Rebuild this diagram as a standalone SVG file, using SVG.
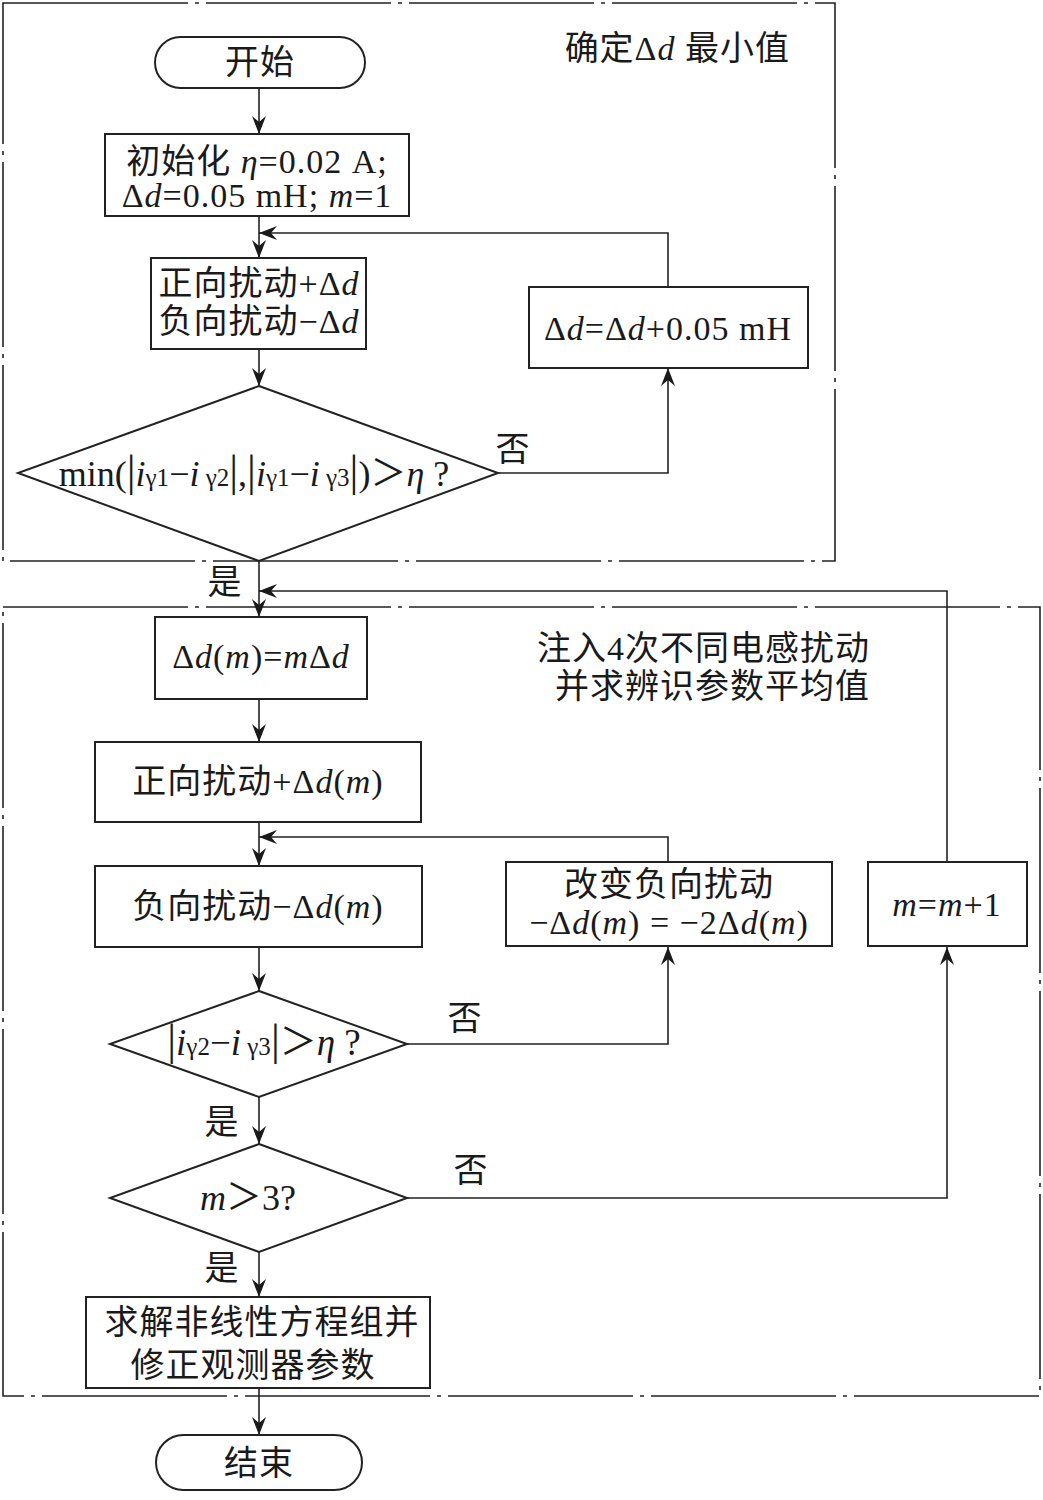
<svg xmlns="http://www.w3.org/2000/svg" width="1043" height="1500" viewBox="0 0 1043 1500">
<style>
.frame{fill:none;stroke:#222;stroke-width:1.6;stroke-dasharray:185 7 4 7}
.box{fill:#fff;stroke:#222;stroke-width:2}
.ln{fill:none;stroke:#222;stroke-width:1.6}
.t{font-family:"Liberation Serif","Noto Sans CJK SC",serif;font-size:34px;fill:#1a1a1a;letter-spacing:1px}
.c{text-anchor:middle}
.i{font-style:italic}
.s{font-size:25px}
.b{font-size:44px}
</style>
<defs>
<marker id="ah" viewBox="0 0 18 14" refX="18" refY="7" markerWidth="18" markerHeight="14" markerUnits="userSpaceOnUse" orient="auto">
<path d="M0,0 L18,7 L0,14 L6,7 Z" fill="#1a1a1a"/>
</marker>
</defs>
<rect class="frame" x="3" y="3" width="832" height="558"/>
<rect class="frame" x="3" y="607" width="1037" height="789"/>
<text class="t" x="790" y="60" text-anchor="end">确定Δ<tspan class="i">d</tspan> 最小值</text>
<text class="t" x="870" y="660" text-anchor="end">注入4次不同电感扰动</text>
<text class="t" x="870" y="698" text-anchor="end">并求辨识参数平均值</text>
<g id="connectors">
<path class="ln" d="M259,88 V134" marker-end="url(#ah)"/>
<path class="ln" d="M259,216 V258" marker-end="url(#ah)"/>
<path class="ln" d="M668,287 V233 H259" marker-end="url(#ah)"/>
<path class="ln" d="M259,349 V386" marker-end="url(#ah)"/>
<path class="ln" d="M498,473 H668 V368" marker-end="url(#ah)"/>
<path class="ln" d="M259,561 V617" marker-end="url(#ah)"/>
<path class="ln" d="M259,699 V742" marker-end="url(#ah)"/>
<path class="ln" d="M259,822 V866" marker-end="url(#ah)"/>
<path class="ln" d="M668,862 V837 H259" marker-end="url(#ah)"/>
<path class="ln" d="M259,947 V991" marker-end="url(#ah)"/>
<path class="ln" d="M407,1044 H668 V947" marker-end="url(#ah)"/>
<path class="ln" d="M259,1097 V1144" marker-end="url(#ah)"/>
<path class="ln" d="M407,1198 H947 V947" marker-end="url(#ah)"/>
<path class="ln" d="M947,862 V591 H259" marker-end="url(#ah)"/>
<path class="ln" d="M259,1252 V1297" marker-end="url(#ah)"/>
<path class="ln" d="M259,1388 V1435" marker-end="url(#ah)"/>
<text class="t c" x="513" y="461">否</text>
<text class="t c" x="225" y="594">是</text>
<text class="t c" x="465" y="1030">否</text>
<text class="t c" x="222" y="1134">是</text>
<text class="t c" x="471" y="1182">否</text>
<text class="t c" x="222" y="1280">是</text>
</g>
<g id="start">
<rect class="box" x="155" y="37" width="210" height="51" rx="25.5"/>
<text class="t c" x="260" y="74">开始</text>
</g>
<g id="init">
<rect class="box" x="105" y="134" width="304" height="82"/>
<text class="t c" x="257" y="173">初始化 <tspan class="i">η</tspan>=0.02 A;</text>
<text class="t c" x="257" y="207">Δ<tspan class="i">d</tspan>=0.05 mH; <tspan class="i">m</tspan>=1</text>
</g>
<g id="perturb1">
<rect class="box" x="151" y="258" width="215" height="91"/>
<text class="t c" x="259" y="295">正向扰动+Δ<tspan class="i">d</tspan></text>
<text class="t c" x="259" y="333">负向扰动−Δ<tspan class="i">d</tspan></text>
</g>
<g id="incr">
<rect class="box" x="529" y="287" width="279" height="81"/>
<text class="t c" x="668" y="340">Δ<tspan class="i">d</tspan>=Δ<tspan class="i">d</tspan>+0.05 mH</text>
</g>
<g id="dec1">
<polygon class="box" points="259,386 498,473 259,561 18,473"/>
<text class="t c" x="254" y="486" style="font-size:36px;letter-spacing:0">min(<tspan class="b">|</tspan><tspan class="i">i</tspan><tspan class="s">γ1</tspan>−<tspan class="i">i</tspan><tspan class="s"> γ2</tspan><tspan class="b">|</tspan>,<tspan class="b">|</tspan><tspan class="i">i</tspan><tspan class="s">γ1</tspan>−<tspan class="i">i</tspan><tspan class="s"> γ3</tspan><tspan class="b">|</tspan>)＞<tspan class="i">η</tspan> ?</text>
</g>
<g id="dm">
<rect class="box" x="155" y="617" width="212" height="82"/>
<text class="t c" x="261" y="668">Δ<tspan class="i">d</tspan>(<tspan class="i">m</tspan>)=<tspan class="i">m</tspan>Δ<tspan class="i">d</tspan></text>
</g>
<g id="pos">
<rect class="box" x="95" y="742" width="326" height="80"/>
<text class="t c" x="258" y="793">正向扰动+Δ<tspan class="i">d</tspan>(<tspan class="i">m</tspan>)</text>
</g>
<g id="neg">
<rect class="box" x="95" y="866" width="327" height="81"/>
<text class="t c" x="258" y="918">负向扰动−Δ<tspan class="i">d</tspan>(<tspan class="i">m</tspan>)</text>
</g>
<g id="change">
<rect class="box" x="506" y="862" width="326" height="84"/>
<text class="t c" x="669" y="896">改变负向扰动</text>
<text class="t c" x="669" y="934">−Δ<tspan class="i">d</tspan>(<tspan class="i">m</tspan>) = −2Δ<tspan class="i">d</tspan>(<tspan class="i">m</tspan>)</text>
</g>
<g id="inc-m">
<rect class="box" x="868" y="862" width="159" height="84"/>
<text class="t c" x="947" y="916"><tspan class="i">m</tspan>=<tspan class="i">m</tspan>+1</text>
</g>
<g id="dec2">
<polygon class="box" points="259,991 407,1044 259,1097 110,1044"/>
<text class="t c" x="264" y="1055" style="font-size:37px;letter-spacing:0"><tspan class="b">|</tspan><tspan class="i">i</tspan><tspan class="s">γ2</tspan>−<tspan class="i">i</tspan><tspan class="s"> γ3</tspan><tspan class="b">|</tspan>＞<tspan class="i">η</tspan> ?</text>
</g>
<g id="dec3">
<polygon class="box" points="259,1144 407,1198 259,1252 110,1198"/>
<text class="t c" x="248" y="1210" style="font-size:36px;letter-spacing:0"><tspan class="i">m</tspan>＞3?</text>
</g>
<g id="solve">
<rect class="box" x="86" y="1297" width="344" height="91"/>
<text class="t c" x="262" y="1334">求解非线性方程组并</text>
<text class="t c" x="253" y="1377">修正观测器参数</text>
</g>
<g id="end">
<rect class="box" x="156" y="1435" width="206" height="55" rx="27.5"/>
<text class="t c" x="259" y="1475">结束</text>
</g>
</svg>
